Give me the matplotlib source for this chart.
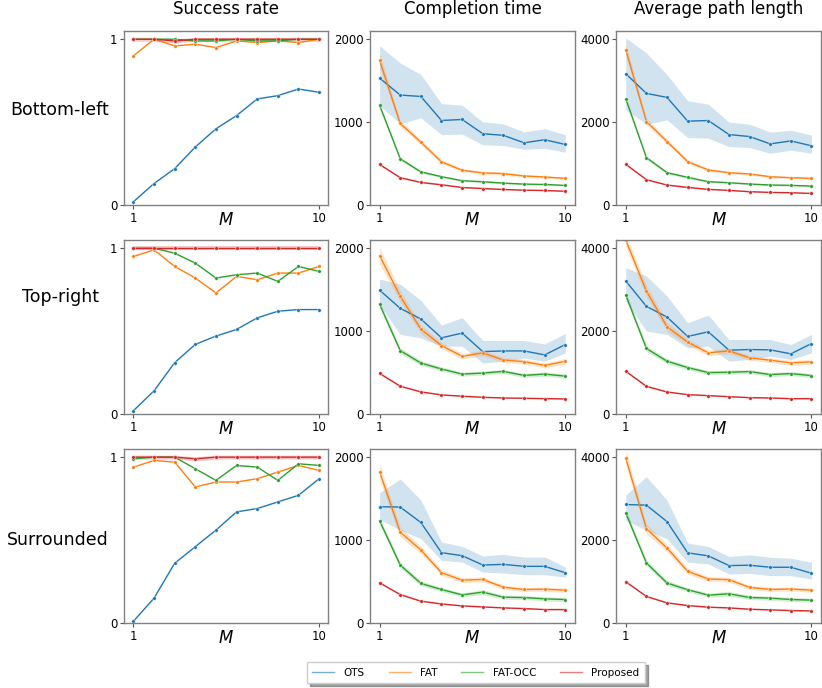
import matplotlib
matplotlib.use("Agg")
import matplotlib.pyplot as plt
from matplotlib.lines import Line2D
import numpy as np

# Datos
M = [1, 2, 3, 4, 5, 6, 7, 8, 9, 10]
metodos = ["OTS", "FAT", "FAT-OCC", "Proposed"]
colores = ["#1f77b4", "#ff7f0e", "#2ca02c", "#d62728"]
escenarios = ["Bottom-left", "Top-right", "Surrounded"]
metricas = ["Success rate", "Completion time", "Average path length"]

# ---- Bottom-left ----
bl_succ_ots = [0.02, 0.13, 0.22, 0.35, 0.46, 0.54, 0.64, 0.66, 0.70, 0.68]
bl_succ_fat = [0.90, 1.00, 0.96, 0.97, 0.95, 0.99, 0.98, 0.99, 0.98, 1.00]
bl_succ_occ = [1.00, 1.00, 1.00, 0.99, 0.99, 1.00, 0.99, 0.99, 1.00, 1.00]
bl_succ_prop = [1.00, 1.00, 0.99, 1.00, 1.00, 1.00, 1.00, 1.00, 1.00, 1.00]

bl_time_ots = [1531, 1327, 1310, 1020, 1033, 861, 841, 751, 788, 731]
bl_time_ots_lo = [1200, 980, 1053, 849, 857, 727, 718, 673, 686, 637]
bl_time_ots_hi = [1922, 1714, 1576, 1224, 1204, 1004, 980, 882, 922, 849]
bl_time_fat = [1747, 984, 759, 522, 420, 388, 380, 351, 339, 322]
bl_time_fat_err = [90, 40, 30, 25, 20, 20, 20, 15, 15, 15]
bl_time_occ = [1204, 559, 400, 343, 294, 282, 265, 253, 249, 237]
bl_time_occ_err = [30, 20, 15, 12, 12, 12, 10, 10, 10, 10]
bl_time_prop = [490, 331, 273, 245, 212, 200, 188, 180, 176, 167]
bl_time_prop_err = [10, 8, 6, 6, 5, 5, 5, 5, 5, 5]

bl_path_ots = [3169, 2694, 2597, 2024, 2040, 1702, 1653, 1476, 1548, 1430]
bl_path_ots_lo = [2298, 1952, 2056, 1629, 1613, 1411, 1387, 1250, 1323, 1250]
bl_path_ots_hi = [4032, 3669, 3145, 2516, 2435, 2000, 1952, 1758, 1806, 1690]
bl_path_fat = [3750, 2016, 1532, 1048, 847, 782, 750, 685, 661, 645]
bl_path_fat_err = [150, 80, 60, 45, 35, 30, 30, 25, 25, 25]
bl_path_occ = [2565, 1145, 782, 669, 565, 540, 508, 484, 476, 460]
bl_path_occ_err = [60, 40, 30, 25, 20, 20, 20, 20, 20, 20]
bl_path_prop = [984, 613, 484, 427, 379, 355, 323, 306, 298, 282]
bl_path_prop_err = [20, 15, 12, 10, 10, 10, 10, 10, 10, 10]

# ---- Top-right ----
tr_succ_ots = [0.02, 0.14, 0.31, 0.42, 0.47, 0.51, 0.58, 0.62, 0.63, 0.63]
tr_succ_fat = [0.95, 0.99, 0.89, 0.82, 0.73, 0.83, 0.81, 0.85, 0.85, 0.89]
tr_succ_occ = [1.00, 1.00, 0.97, 0.91, 0.82, 0.84, 0.85, 0.80, 0.89, 0.86]
tr_succ_prop = [1.00, 1.00, 1.00, 1.00, 1.00, 1.00, 1.00, 1.00, 1.00, 1.00]

tr_time_ots = [1494, 1275, 1146, 919, 976, 753, 761, 761, 713, 838]
tr_time_ots_lo = [1320, 960, 919, 818, 818, 615, 636, 676, 636, 737]
tr_time_ots_hi = [1628, 1567, 1372, 1073, 1162, 887, 887, 887, 846, 972]
tr_time_fat = [1911, 1421, 1024, 826, 696, 737, 652, 632, 587, 636]
tr_time_fat_err = [100, 70, 55, 40, 35, 35, 30, 30, 30, 35]
tr_time_occ = [1324, 765, 615, 543, 482, 494, 514, 466, 482, 457]
tr_time_occ_err = [40, 35, 30, 25, 25, 25, 25, 25, 25, 25]
tr_time_prop = [490, 336, 267, 231, 215, 202, 194, 190, 186, 182]
tr_time_prop_err = [10, 8, 6, 6, 5, 5, 5, 5, 5, 5]

tr_path_ots = [3210, 2597, 2339, 1871, 1984, 1540, 1556, 1548, 1452, 1700]
tr_path_ots_lo = [2726, 2000, 1919, 1597, 1637, 1274, 1315, 1395, 1315, 1476]
tr_path_ots_hi = [3532, 3331, 2847, 2202, 2387, 1798, 1798, 1798, 1677, 1919]
tr_path_fat = [4194, 2968, 2105, 1734, 1476, 1524, 1355, 1298, 1234, 1260]
tr_path_fat_err = [160, 140, 110, 80, 70, 70, 60, 60, 60, 60]
tr_path_occ = [2871, 1581, 1274, 1121, 1000, 1008, 1024, 952, 976, 927]
tr_path_occ_err = [80, 70, 60, 55, 50, 50, 50, 50, 50, 50]
tr_path_prop = [1032, 669, 532, 468, 444, 419, 395, 387, 371, 371]
tr_path_prop_err = [20, 15, 12, 10, 10, 10, 10, 10, 10, 10]

# ---- Surrounded ----
su_succ_ots = [0.01, 0.15, 0.36, 0.46, 0.56, 0.67, 0.69, 0.73, 0.77, 0.87]
su_succ_fat = [0.94, 0.98, 0.97, 0.82, 0.85, 0.85, 0.87, 0.91, 0.95, 0.92]
su_succ_occ = [0.99, 1.00, 1.00, 0.93, 0.86, 0.95, 0.94, 0.86, 0.96, 0.95]
su_succ_prop = [1.00, 1.00, 1.00, 0.99, 1.00, 1.00, 1.00, 1.00, 1.00, 1.00]

su_time_ots = [1402, 1398, 1212, 848, 812, 699, 707, 683, 683, 606]
su_time_ots_lo = [1250, 1120, 1018, 755, 735, 614, 602, 582, 582, 553]
su_time_ots_hi = [1572, 1737, 1483, 978, 925, 808, 828, 796, 796, 675]
su_time_fat = [1826, 1095, 881, 606, 517, 525, 432, 404, 408, 396]
su_time_fat_err = [90, 60, 45, 35, 30, 30, 25, 25, 25, 25]
su_time_occ = [1232, 699, 477, 404, 339, 372, 311, 307, 291, 283]
su_time_occ_err = [40, 35, 30, 25, 25, 30, 25, 25, 25, 25]
su_time_prop = [485, 343, 263, 230, 206, 194, 182, 174, 162, 162]
su_time_prop_err = [10, 8, 6, 6, 5, 5, 5, 5, 5, 5]

su_path_ots = [2858, 2842, 2445, 1692, 1619, 1385, 1393, 1344, 1344, 1200]
su_path_ots_lo = [2478, 2235, 2032, 1466, 1425, 1182, 1198, 1142, 1142, 1060]
su_path_ots_hi = [3085, 3530, 2964, 1927, 1846, 1603, 1644, 1587, 1563, 1466]
su_path_fat = [3976, 2275, 1806, 1247, 1061, 1045, 858, 810, 818, 793]
su_path_fat_err = [180, 120, 90, 70, 60, 60, 50, 50, 50, 50]
su_path_occ = [2656, 1449, 964, 802, 672, 704, 615, 599, 567, 551]
su_path_occ_err = [80, 70, 60, 50, 50, 60, 50, 50, 50, 50]
su_path_prop = [996, 640, 486, 421, 381, 364, 332, 316, 300, 291]
su_path_prop_err = [20, 15, 12, 10, 10, 10, 10, 10, 10, 10]

# Agrupar por escenario
exito = [
    [bl_succ_ots, bl_succ_fat, bl_succ_occ, bl_succ_prop],
    [tr_succ_ots, tr_succ_fat, tr_succ_occ, tr_succ_prop],
    [su_succ_ots, su_succ_fat, su_succ_occ, su_succ_prop],
]
tiempo = [
    (bl_time_ots, bl_time_ots_lo, bl_time_ots_hi,
     [(bl_time_fat, bl_time_fat_err), (bl_time_occ, bl_time_occ_err), (bl_time_prop, bl_time_prop_err)]),
    (tr_time_ots, tr_time_ots_lo, tr_time_ots_hi,
     [(tr_time_fat, tr_time_fat_err), (tr_time_occ, tr_time_occ_err), (tr_time_prop, tr_time_prop_err)]),
    (su_time_ots, su_time_ots_lo, su_time_ots_hi,
     [(su_time_fat, su_time_fat_err), (su_time_occ, su_time_occ_err), (su_time_prop, su_time_prop_err)]),
]
camino = [
    (bl_path_ots, bl_path_ots_lo, bl_path_ots_hi,
     [(bl_path_fat, bl_path_fat_err), (bl_path_occ, bl_path_occ_err), (bl_path_prop, bl_path_prop_err)]),
    (tr_path_ots, tr_path_ots_lo, tr_path_ots_hi,
     [(tr_path_fat, tr_path_fat_err), (tr_path_occ, tr_path_occ_err), (tr_path_prop, tr_path_prop_err)]),
    (su_path_ots, su_path_ots_lo, su_path_ots_hi,
     [(su_path_fat, su_path_fat_err), (su_path_occ, su_path_occ_err), (su_path_prop, su_path_prop_err)]),
]

x = np.array(M)


def linea(ax, y, color):
    ax.plot(x, y, color=color, lw=1.0, marker="o", markersize=2.6,
            markeredgecolor="white", markeredgewidth=0.3)


def panel_continuo(ax, datos, ylim, yticks):
    ots, lo, hi, resto = datos
    ax.fill_between(x, lo, hi, color=colores[0], alpha=0.2, lw=0)
    linea(ax, ots, colores[0])
    for (med, err), c in zip(resto, colores[1:]):
        med = np.array(med)
        err = np.array(err)
        ax.fill_between(x, med - err, med + err, color=c, alpha=0.2, lw=0)
        linea(ax, med, c)
    ax.set_ylim(*ylim)
    ax.set_yticks(yticks)


fig, axes = plt.subplots(3, 3, figsize=(8.22, 6.88), dpi=100)
plt.subplots_adjust(left=0.151, right=0.9985, top=0.955, bottom=0.0945,
                    wspace=0.205, hspace=0.2)

for i in range(3):
    ax = axes[i, 0]
    for serie, c in zip(exito[i], colores):
        if c == colores[3]:
            s = np.array(serie)
            ax.fill_between(x, s - 0.012, s + 0.012, color=c, alpha=0.25, lw=0)
        linea(ax, serie, c)
    ax.set_ylim(0, 1.05)
    ax.set_yticks([0, 1])

    panel_continuo(axes[i, 1], tiempo[i], (0, 2100), [0, 1000, 2000])
    panel_continuo(axes[i, 2], camino[i], (0, 4200), [0, 2000, 4000])

    for ax in axes[i]:
        ax.set_xlim(0.55, 10.45)
        ax.set_xticks([1, 10])
        ax.set_xlabel("$M$", fontsize=12, labelpad=-10)
        ax.tick_params(labelsize=8.5, length=3, width=0.8, color="#555555", pad=2)
        for s in ax.spines.values():
            s.set_color("#808080")
            s.set_linewidth(1.0)

for j, t in enumerate(metricas):
    axes[0, j].set_title(t, fontsize=12, pad=12)

# Etiquetas de fila
fig.text(60 / 822, 1 - 110 / 688, escenarios[0], fontsize=12.5, ha="center", va="center")
fig.text(60 / 822, 1 - 297 / 688, escenarios[1], fontsize=12.5, ha="center", va="center")
fig.text(58 / 822, 1 - 540 / 688, escenarios[2], fontsize=12.5, ha="center", va="center")

handles = [Line2D([0], [0], color=c, lw=1.0, alpha=0.6) for c in colores]
fig.legend(handles, metodos, loc="lower center", ncol=4, fontsize=7.5,
           bbox_to_anchor=(476 / 822, 0.0), frameon=True, shadow=True,
           fancybox=False, handlelength=2.1, handletextpad=0.9,
           columnspacing=2.3, borderpad=0.5)

plt.savefig("out.png", dpi=100)
